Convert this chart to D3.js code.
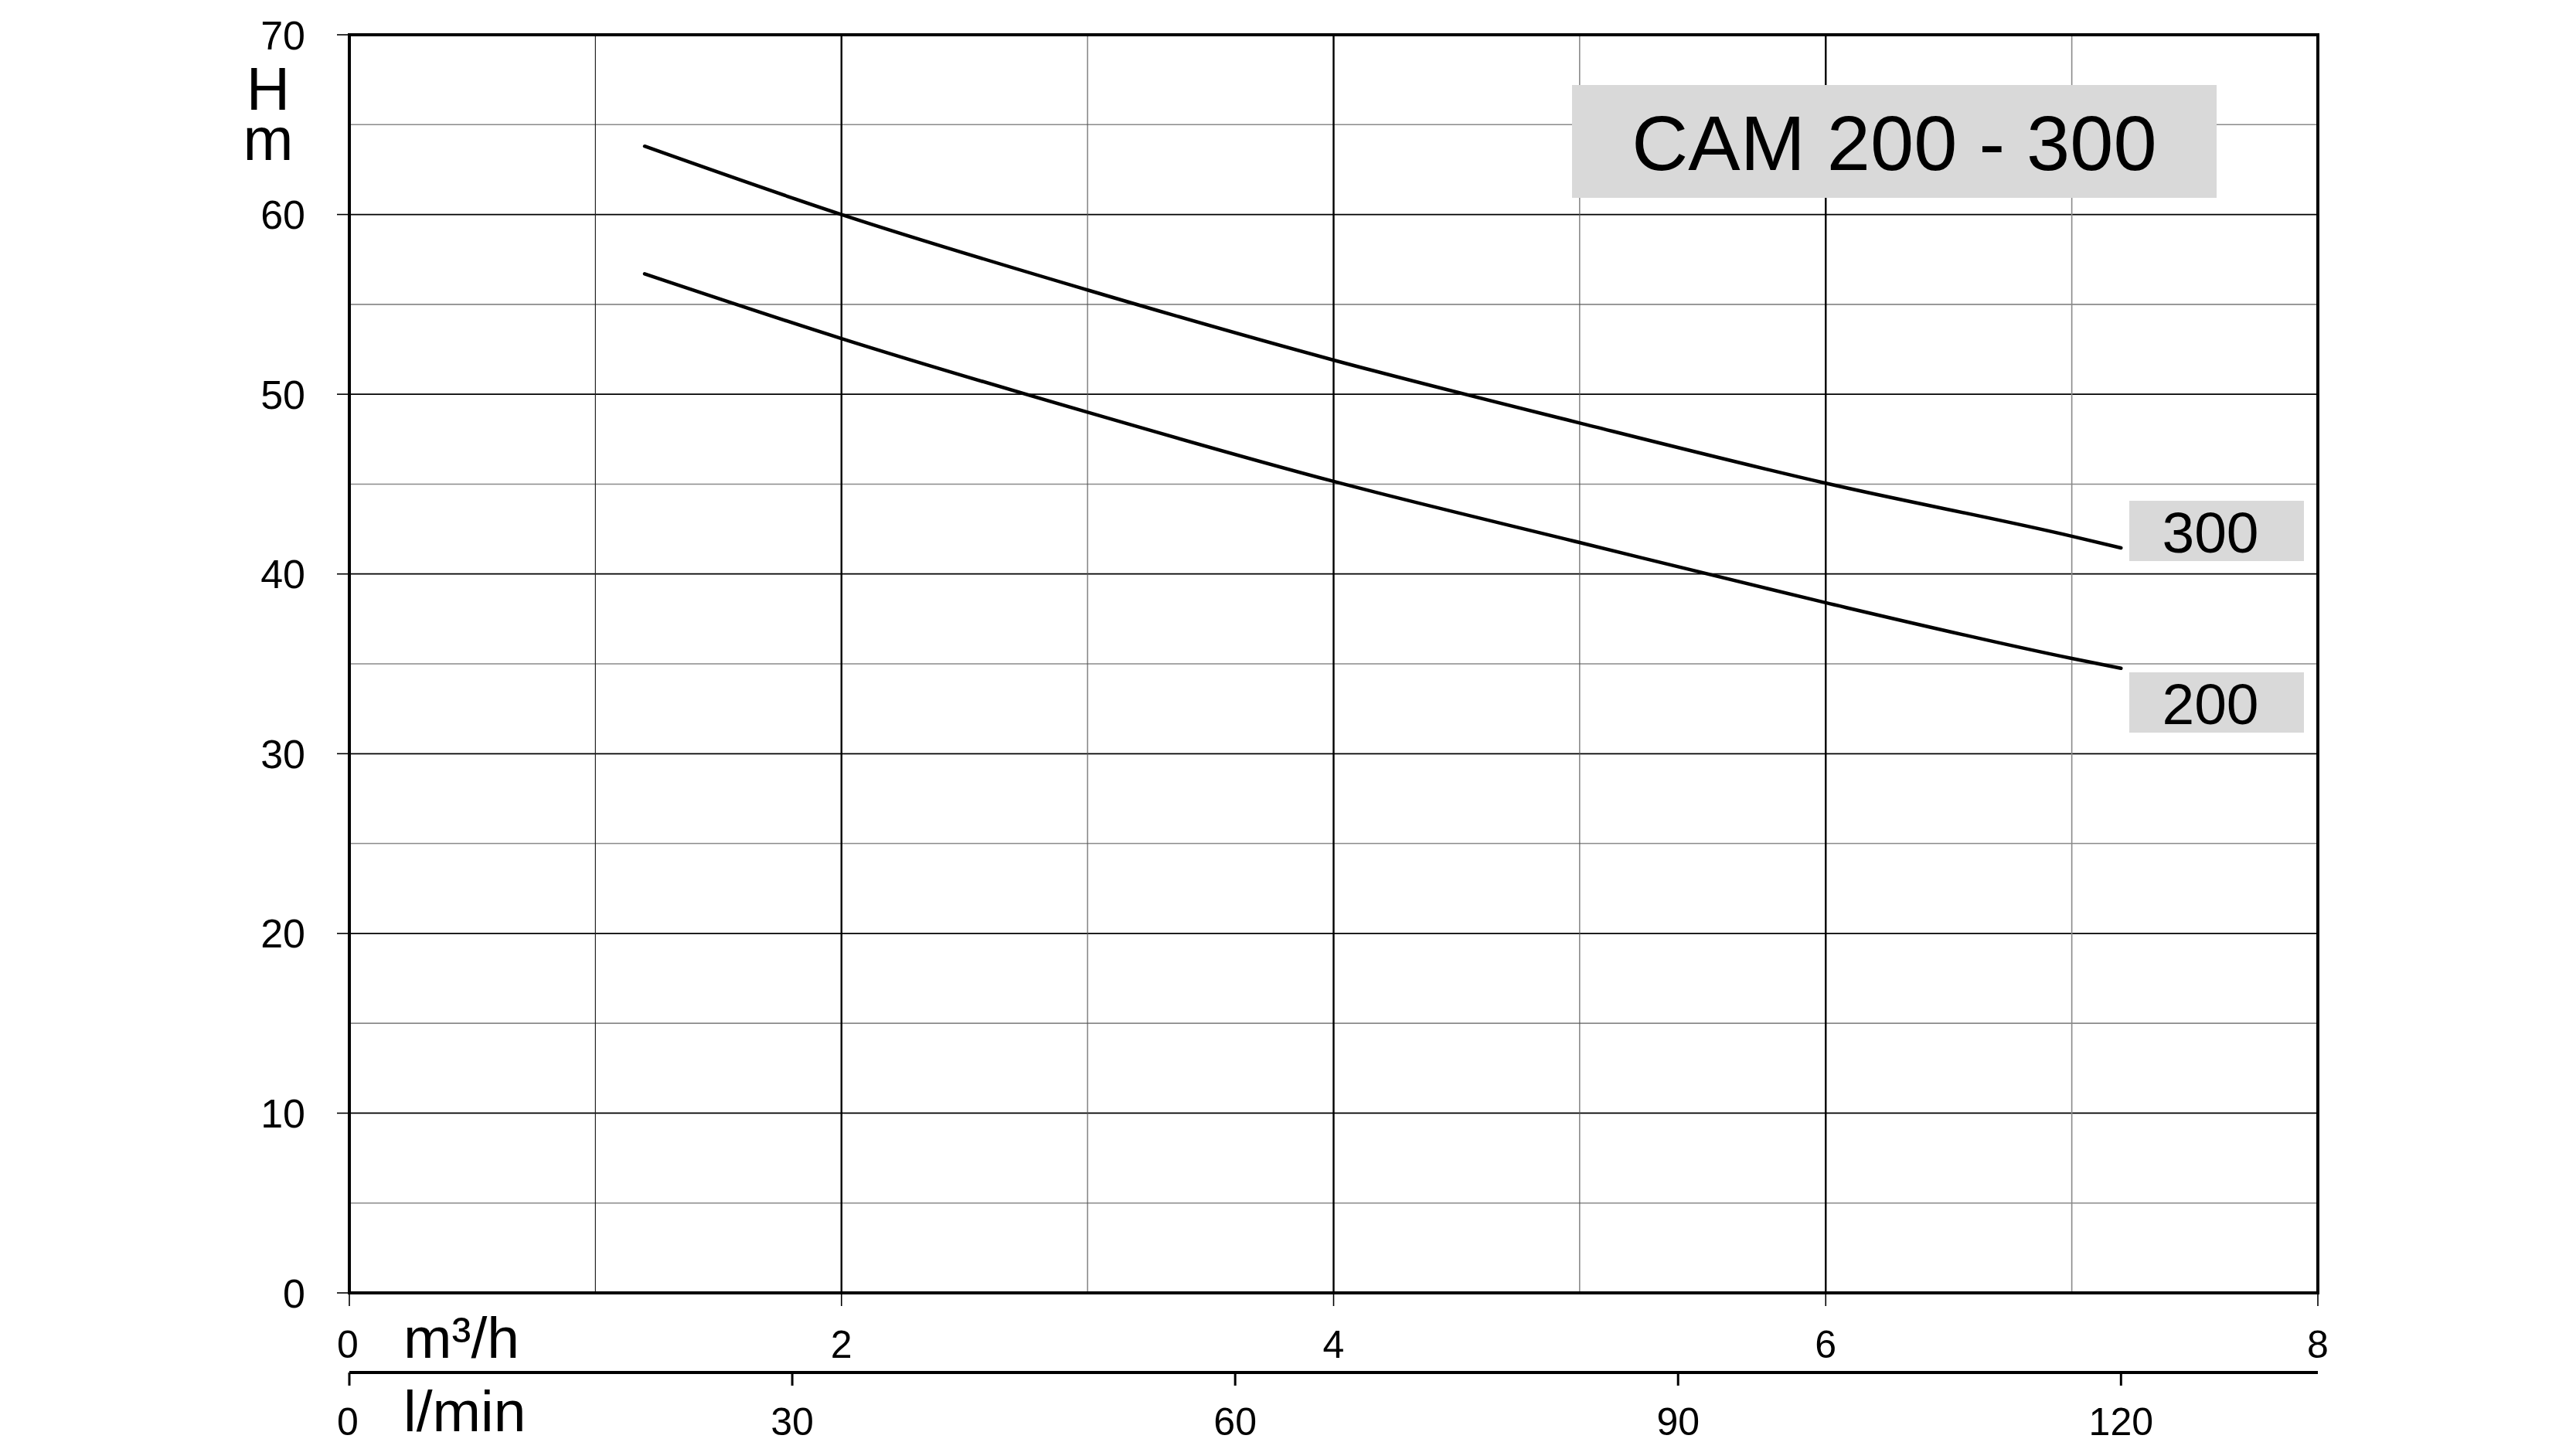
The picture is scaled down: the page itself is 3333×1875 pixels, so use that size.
<!DOCTYPE html>
<html>
<head>
<meta charset="utf-8">
<script src="https://cdn.jsdelivr.net/npm/d3@7/dist/d3.min.js"></script>
<style>
  html, body { margin: 0; padding: 0; background: #fff; }
  svg { display: block; }
  text { font-family: "Liberation Sans", Arial, Helvetica, sans-serif; fill: #000; }
</style>
</head>
<body>
<svg id="chart" width="3333" height="1875"></svg>
<script>
// ---- data ----
const flowM3h = [1.2, 2, 3, 4, 5, 6, 7, 7.2];
const head300 = [63.8, 60.0, 55.8, 51.9, 48.4, 45.05, 42.1, 41.45];
const head200 = [56.7, 53.1, 49.0, 45.15, 41.75, 38.4, 35.3, 34.75];
const seriesNames = ["300", "200"];
const yTickValues = [0, 10, 20, 30, 40, 50, 60, 70];
const xTickM3h = [0, 2, 4, 6, 8];
const xTickLmin = [0, 30, 60, 90, 120];
const chartTitle = "CAM 200 - 300";

// ---- layout ----
const W = 3333, H = 1875;
const L = 452, R = 2999, T = 45, B = 1673;
const svg = d3.select("#chart");
svg.append("rect").attr("width", W).attr("height", H).attr("fill", "#fff");

const x = d3.scaleLinear().domain([0, 8]).range([L, R]);
const xl = d3.scaleLinear().domain([0, 8000 / 60]).range([L, R]);
const y = d3.scaleLinear().domain([0, 70]).range([B, T]);

// ---- grid ----
const grid = svg.append("g");
const xGrid = x.ticks(8);
const yGrid = y.ticks(14);
yGrid.forEach(v => {
  if (v === 0 || v === 70) return;
  const major = v % 10 === 0;
  grid.append("line")
    .attr("x1", L).attr("x2", R).attr("y1", y(v)).attr("y2", y(v))
    .attr("stroke", major ? "#000" : "#8a8a8a")
    .attr("stroke-width", major ? 1.8 : 1.6);
});
xGrid.forEach(v => {
  if (v === 0 || v === 8) return;
  const even = v % 2 === 0;
  let col = "#000", sw = 2.4;
  if (!even) {
    if (v === 1) { col = "#222"; sw = 1.2; }
    else if (v === 7) { col = "#8a8a8a"; sw = 1.6; }
    else { col = "#555"; sw = 1.1; }
  }
  grid.append("line")
    .attr("x1", x(v)).attr("x2", x(v)).attr("y1", T).attr("y2", B)
    .attr("stroke", col).attr("stroke-width", sw);
});

// ---- title box ----
const tb = svg.append("g");
tb.append("rect").attr("x", 2034).attr("y", 110).attr("width", 834).attr("height", 146).attr("fill", "#d9d9d9");
tb.append("text").attr("x", 2451).attr("y", 220).attr("text-anchor", "middle")
  .attr("font-size", 101).text(chartTitle);

// ---- curves ----
const line = d3.line().x(d => x(d[0])).y(d => y(d[1])).curve(d3.curveMonotoneX);
const series = [head300, head200];
series.forEach((s, i) => {
  svg.append("path")
    .datum(flowM3h.map((f, k) => [f, s[k]]))
    .attr("d", line)
    .attr("fill", "none").attr("stroke", "#000").attr("stroke-width", 4.5)
    .attr("stroke-linecap", "round").attr("stroke-linejoin", "round");
});

// series label boxes
const labelBoxes = [{ y0: 648, name: seriesNames[0] }, { y0: 870, name: seriesNames[1] }];
labelBoxes.forEach(b => {
  svg.append("rect").attr("x", 2755).attr("y", b.y0).attr("width", 226).attr("height", 78).attr("fill", "#d9d9d9");
  svg.append("text").attr("x", 2860).attr("y", b.y0 + 67).attr("text-anchor", "middle")
    .attr("font-size", 75).text(b.name);
});

// ---- frame ----
svg.append("rect").attr("x", L).attr("y", T).attr("width", R - L).attr("height", B - T)
  .attr("fill", "none").attr("stroke", "#000").attr("stroke-width", 4);

// ---- y axis ----
const yAxis = svg.append("g");
yTickValues.forEach(v => {
  yAxis.append("line").attr("x1", 436).attr("x2", L).attr("y1", y(v)).attr("y2", y(v))
    .attr("stroke", "#000").attr("stroke-width", 1.6);
  yAxis.append("text").attr("x", 395).attr("y", y(v) + 18.5).attr("text-anchor", "end")
    .attr("font-size", 52).text(v);
});
const yTitle = svg.append("text").attr("text-anchor", "middle").attr("font-size", 78);
yTitle.append("tspan").attr("x", 347).attr("y", 142).text("H");
yTitle.append("tspan").attr("x", 347).attr("y", 207).text("m");

// ---- x axis m3/h ----
const xa = svg.append("g");
xTickM3h.forEach(v => {
  xa.append("line").attr("x1", x(v)).attr("x2", x(v)).attr("y1", B).attr("y2", 1690)
    .attr("stroke", "#000").attr("stroke-width", 1.6);
  xa.append("text").attr("x", x(v) - (v === 0 ? 2 : 0)).attr("y", 1757).attr("text-anchor", "middle")
    .attr("font-size", 50).text(v);
});
svg.append("text").attr("x", 522).attr("y", 1757).attr("font-size", 75).text("m³/h");

// ---- x axis l/min ----
const xb = svg.append("g");
xb.append("line").attr("x1", L).attr("x2", R).attr("y1", 1776).attr("y2", 1776)
  .attr("stroke", "#000").attr("stroke-width", 4);
xTickLmin.forEach(v => {
  xb.append("line").attr("x1", xl(v)).attr("x2", xl(v)).attr("y1", 1776).attr("y2", 1793)
    .attr("stroke", "#000").attr("stroke-width", 3);
  xb.append("text").attr("x", xl(v) - (v === 0 ? 2 : 0)).attr("y", 1857).attr("text-anchor", "middle")
    .attr("font-size", 50).text(v);
});
svg.append("text").attr("x", 522).attr("y", 1852).attr("font-size", 75).text("l/min");
</script>
</body>
</html>
